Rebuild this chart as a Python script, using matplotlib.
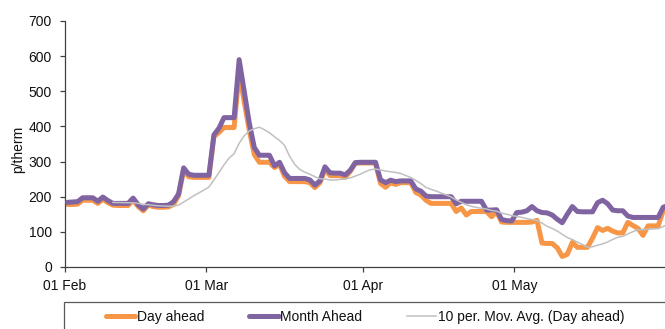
import matplotlib
matplotlib.use('Agg')
import matplotlib.pyplot as plt
import matplotlib.patches as mpatches
import numpy as np
import pandas as pd

plt.rcParams['font.family'] = ['Liberation Sans', 'DejaVu Sans']
plt.rcParams['font.size'] = 10

# ---- data (daily, 01 Feb - 31 May) ----
start_date = '2022-02-01'
end_date = '2022-05-31'

day_ahead = [
    178, 178, 179, 190, 190, 190, 181, 193, 183, 176,
    175, 175, 175, 190, 172, 160, 176, 172, 170, 170,
    171, 178, 203, 276, 257, 255, 255, 255, 255, 371,
    383, 397, 397, 397, 555, 470, 390, 320, 298, 298,
    298, 283, 292, 258, 243, 243, 243, 243, 240, 226,
    240, 278, 260, 260, 260, 255, 272, 295, 296, 296,
    296, 296, 238, 227, 240, 235, 240, 240, 240, 212,
    205, 190, 181, 181, 181, 181, 181, 158, 168, 148,
    158, 158, 158, 158, 143, 157, 128, 127, 127, 127,
    127, 127, 128, 133, 68, 67, 67, 55, 30, 36,
    70, 56, 56, 56, 82, 112, 104, 110, 102, 97,
    97, 127, 118, 110, 90, 117, 117, 117, 160, 175,
]

month_ahead = [
    184, 185, 186, 197, 197, 197, 187, 199, 189, 181,
    181, 181, 181, 196, 177, 165, 180, 177, 175, 175,
    176, 186, 208, 282, 264, 261, 261, 261, 261, 376,
    395, 425, 425, 425, 590, 500, 410, 340, 318, 318,
    318, 288, 298, 268, 252, 252, 252, 252, 248, 233,
    245, 285, 268, 267, 267, 262, 275, 297, 298, 298,
    298, 298, 248, 240, 247, 243, 245, 245, 245, 222,
    216, 202, 200, 200, 200, 200, 200, 180, 187, 187,
    187, 187, 187, 162, 162, 163, 135, 132, 131, 155,
    156, 160, 172, 160, 155, 154, 148, 136, 126, 150,
    172, 158, 157, 157, 157, 183, 190, 180, 162, 160,
    160, 145, 141, 141, 141, 141, 141, 141, 170, 175,
]

ma_window = 10

tick_dates = ['2022-02-01', '2022-03-01', '2022-04-01', '2022-05-01']
tick_labels = ['01 Feb', '01 Mar', '01 Apr', '01 May']
y_ticks = [0, 100, 200, 300, 400, 500, 600, 700]

series_labels = ['Day ahead', 'Month Ahead', '10 per. Mov. Avg. (Day ahead)']
colors = ['#F79646', '#8064A2', '#C0C0C0']

# ---- figure ----
W, H = 665, 329
fig = plt.figure(figsize=(W / 100, H / 100), dpi=100)
ax = fig.add_axes([65 / W, (H - 267) / H, (W - 65) / W, (267 - 21) / H])

dates = pd.date_range(start_date, end_date, freq='D')
xpos = dates + pd.Timedelta(hours=12)
moving_avg = pd.Series(day_ahead, index=xpos).rolling(ma_window).mean()

l1, = ax.plot(xpos, day_ahead, color=colors[0], lw=3.6,
              solid_joinstyle='round', solid_capstyle='round', zorder=2)
l2, = ax.plot(xpos, month_ahead, color=colors[1], lw=3.6,
              solid_joinstyle='round', solid_capstyle='round', zorder=3)
l3, = ax.plot(moving_avg.index, moving_avg.values, color=colors[2], lw=1.1,
              zorder=4)

ax.set_xlim(dates[0], dates[0] + pd.Timedelta(days=118.86))
ax.set_ylim(0, 700)
ax.set_yticks(y_ticks)
ax.set_xticks(pd.to_datetime(tick_dates))
ax.set_xticklabels(tick_labels)

for s in ['top', 'right']:
    ax.spines[s].set_visible(False)
for s in ['left', 'bottom']:
    ax.spines[s].set_color('#404040')
    ax.spines[s].set_linewidth(0.9)
ax.tick_params(axis='both', direction='out', length=3.5, width=0.9,
               color='#404040', labelcolor='#111111', labelsize=10)
ax.tick_params(axis='y', pad=6)
ax.tick_params(axis='x', pad=5)

fig.text(18 / W, 1 - 149 / H, 'p/therm', rotation=90, ha='center', va='center',
         fontsize=10, color='#111111')

# legend
leg = fig.legend([l1, l2, l3], series_labels, loc='center left',
                 bbox_to_anchor=(106 / W, 1 - 317 / H), ncol=3, frameon=False,
                 borderpad=0, borderaxespad=0, handlelength=2.1,
                 handletextpad=0.12, columnspacing=3.25, fontsize=10)
for t in leg.get_texts():
    t.set_color('#111111')
box = mpatches.Rectangle((64 / W, -0.2), 1.0, (H - 302) / H + 0.2,
                         transform=fig.transFigure, fill=False,
                         edgecolor='#595959', lw=0.9)
fig.patches.append(box)

fig.savefig('out.png', dpi=100)
